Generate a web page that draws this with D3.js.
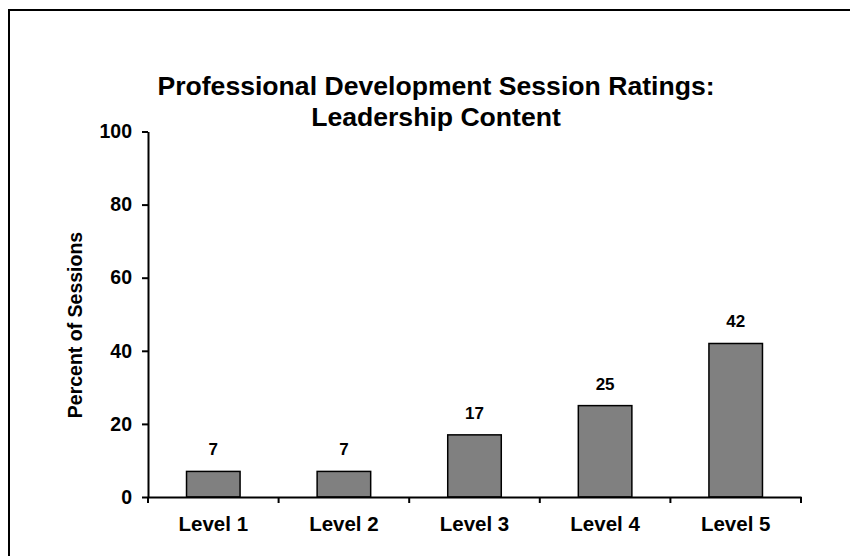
<!DOCTYPE html>
<html><head><meta charset="utf-8">
<script src="https://cdn.jsdelivr.net/npm/d3@7"></script>
<style>html,body{margin:0;padding:0;background:#fff;} svg{display:block;}</style>
</head><body>
<svg id="chart" width="850" height="556"></svg>
<script>
const categories = ["Level 1","Level 2","Level 3","Level 4","Level 5"];
const values = [7, 7, 17, 25, 42];
const yTicks = [0, 20, 40, 60, 80, 100];
const titleLines = ["Professional Development Session Ratings:", "Leadership Content"];
const yTitle = "Percent of Sessions";

const svg = d3.select("#chart");
const font = "Arial, 'Liberation Sans', Helvetica, sans-serif";
const plotLeft = 148, plotRight = 801, plotTop = 131.5, plotBottom = 497;

// frame
svg.append("rect").attr("x", 9).attr("y", 10).attr("width", 900).attr("height", 700)
  .attr("fill", "none").attr("stroke", "#000").attr("stroke-width", 2);

const x = d3.scaleBand().domain(categories).range([plotLeft, plotRight]).padding(0);
const y = d3.scaleLinear().domain([0, 100]).range([plotBottom, plotTop]);
const barW = x.bandwidth() * 0.41;

// title
svg.append("g").selectAll("text").data(titleLines).join("text")
  .attr("x", 436).attr("y", (d, i) => 95 + i * 31)
  .attr("text-anchor", "middle").attr("font-family", font)
  .attr("font-weight", "bold").attr("font-size", 26.6).text(d => d);

// bars
svg.append("g").selectAll("rect").data(values).join("rect")
  .attr("x", (d, i) => x(categories[i]) + (x.bandwidth() - barW) / 2)
  .attr("y", d => y(d)).attr("width", barW).attr("height", d => y(0) - y(d))
  .attr("fill", "#808080").attr("stroke", "#000").attr("stroke-width", 1.5);

// data labels
svg.append("g").selectAll("text").data(values).join("text")
  .attr("x", (d, i) => x(categories[i]) + x.bandwidth() / 2)
  .attr("y", d => y(d) - 16)
  .attr("text-anchor", "middle").attr("font-family", font)
  .attr("font-weight", "bold").attr("font-size", 17).text(d => d);

// y axis
const yAxis = d3.axisLeft(y).tickValues(yTicks).tickSize(6).tickPadding(10).tickSizeOuter(0);
const gy = svg.append("g").attr("transform", `translate(${plotLeft},0)`).call(yAxis);
gy.select(".domain").attr("stroke", "#000").attr("stroke-width", 2);
gy.selectAll(".tick line").attr("stroke", "#000").attr("stroke-width", 2);
gy.selectAll(".tick text").attr("font-family", font).attr("font-weight", "bold")
  .attr("font-size", 19.5).attr("fill", "#000");

// x axis
const xAxis = d3.axisBottom(x).tickSize(0).tickPadding(19).tickSizeOuter(0);
const gx = svg.append("g").attr("transform", `translate(0,${plotBottom})`).call(xAxis);
gx.select(".domain").attr("stroke", "#000").attr("stroke-width", 2);
gx.selectAll(".tick text").attr("font-family", font).attr("font-weight", "bold")
  .attr("font-size", 20.5).attr("fill", "#000");
// boundary ticks between categories
const bounds = categories.map(c => x(c)).concat([plotRight]);
gx.append("g").selectAll("line").data(bounds).join("line")
  .attr("x1", d => d).attr("x2", d => d).attr("y1", 0).attr("y2", 6)
  .attr("stroke", "#000").attr("stroke-width", 2);

// y title
svg.append("text").attr("transform", `translate(82,325) rotate(-90)`)
  .attr("text-anchor", "middle").attr("font-family", font)
  .attr("font-weight", "bold").attr("font-size", 19.5).text(yTitle);
</script>
</body></html>
